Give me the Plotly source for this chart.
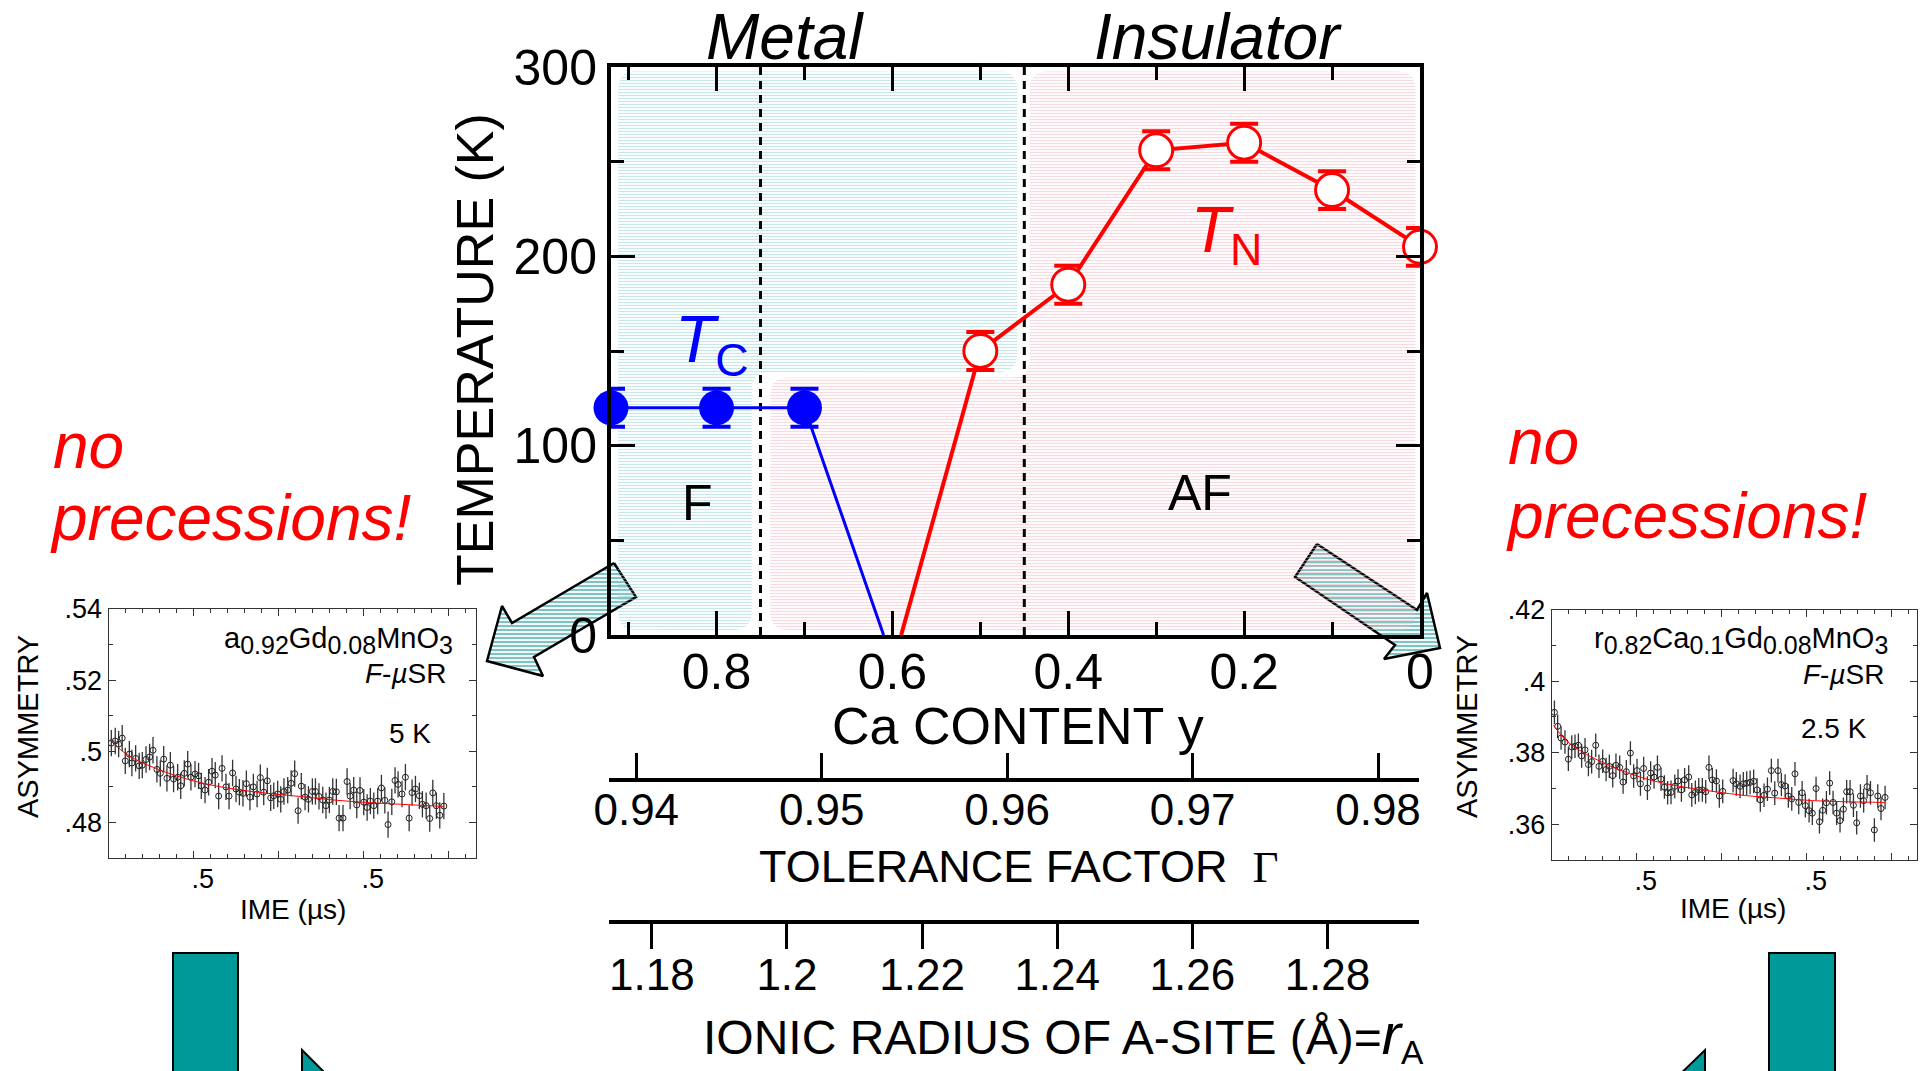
import numpy as np
import plotly.graph_objects as go

W, H = 1923, 1071
FONT = "Liberation Sans, Arial, Helvetica, sans-serif"

# ---------------- main phase diagram data ----------------
ca_tc = [0.92, 0.8, 0.7]
tc_vals = [120, 120, 120]
tc_err = [10, 10, 10]
tc_line_ca = [0.92, 0.8, 0.7, 0.61]
tc_line_t = [120, 120, 120, 0]

ca_tn = [0.5, 0.4, 0.3, 0.2, 0.1, 0.0]
tn_vals = [150, 185, 256, 260, 235, 205]
tn_err = [10, 10, 10, 10, 10, 10]
tn_line_ca = [0.59, 0.5, 0.4, 0.3, 0.2, 0.1, 0.0]
tn_line_t = [0, 150, 185, 256, 260, 235, 205]

phase_dividers = [0.75, 0.45]
# shaded phase regions (Ca content, T)
region_F = [(0.912, 297.6), (0.458, 297.6), (0.458, 139), (0.76, 139), (0.76, 2.6), (0.912, 2.6)]
region_AF = [(0.739, 2.6), (0.739, 136), (0.444, 136), (0.444, 297.6), (0.005, 297.6), (0.005, 2.6)]

tol_ticks = [0.94, 0.95, 0.96, 0.97, 0.98]
tol_range = [0.93853, 0.98221]
ion_ticks = [1.18, 1.20, 1.22, 1.24, 1.26, 1.28]
ion_labels = ["1.18", "1.2", "1.22", "1.24", "1.26", "1.28"]
ion_range = [1.17366, 1.29355]

# ---------------- inset data (left: Ca0.92Gd0.08MnO3, 5 K) ----------------
t_left = [0.016,0.039,0.059,0.080,0.098,0.122,0.137,0.159,0.180,0.198,
          0.220,0.241,0.261,0.284,0.304,0.324,0.343,0.363,0.382,0.406,
          0.424,0.445,0.465,0.484,0.508,0.529,0.545,0.567,0.588,0.608,
          0.627,0.647,0.667,0.690,0.708,0.729,0.749,0.769,0.790,0.810,
          0.831,0.851,0.873,0.892,0.912,0.933,0.953,0.971,0.994,1.012,
          1.031,1.053,1.073,1.094,1.114,1.133,1.155,1.175,1.198,1.216,
          1.237,1.259,1.278,1.298,1.318,1.339,1.355,1.378,1.402,1.420,
          1.441,1.459,1.478,1.500,1.520,1.539,1.559,1.582,1.604,1.624,
          1.643,1.665,1.684,1.702,1.725,1.745,1.767,1.784,1.804,1.827,
          1.845,1.867,1.888,1.906,1.927,1.947,1.971]
a_left = [0.5023,0.5029,0.5020,0.5037,0.4973,0.4992,0.4967,0.4980,0.4959,0.4961,
          0.4977,0.4984,0.5003,0.4949,0.4938,0.4978,0.4924,0.4961,0.4922,0.4927,
          0.4903,0.4938,0.4964,0.4927,0.4936,0.4931,0.4903,0.4891,0.4913,0.4944,
          0.4933,0.4874,0.4952,0.4900,0.4874,0.4939,0.4894,0.4885,0.4882,0.4909,
          0.4871,0.4900,0.4880,0.4926,0.4885,0.4917,0.4869,0.4875,0.4880,0.4865,
          0.4887,0.4891,0.4910,0.4937,0.4833,0.4902,0.4871,0.4865,0.4887,0.4887,
          0.4873,0.4863,0.4847,0.4863,0.4887,0.4886,0.4812,0.4812,0.4915,0.4874,
          0.4891,0.4849,0.4890,0.4857,0.4842,0.4860,0.4847,0.4860,0.4897,0.4862,
          0.4794,0.4858,0.4918,0.4907,0.4880,0.4927,0.4812,0.4884,0.4894,0.4875,
          0.4851,0.4847,0.4811,0.4883,0.4847,0.4820,0.4846]
err_left = 0.0037
fit_left_t = [0.010, 0.069, 0.147, 0.343, 0.539, 0.735, 0.931, 1.127, 1.324, 1.520, 1.716, 1.971]
fit_left_a = [0.5035, 0.5005, 0.4980, 0.4940, 0.4912, 0.4894, 0.4882, 0.4873, 0.4863, 0.4856, 0.4851, 0.4845]

# ---------------- inset data (right: Sr0.82Ca0.1Gd0.08MnO3, 2.5 K) ----------------
t_right = [0.016,0.035,0.055,0.078,0.098,0.118,0.137,0.157,0.176,0.196,
           0.216,0.235,0.259,0.278,0.300,0.320,0.339,0.359,0.378,0.400,
           0.420,0.439,0.463,0.482,0.502,0.522,0.541,0.563,0.582,0.602,
           0.622,0.643,0.663,0.682,0.702,0.724,0.743,0.763,0.782,0.806,
           0.824,0.845,0.865,0.886,0.906,0.925,0.945,0.969,0.986,1.006,
           1.067,1.086,1.108,1.127,1.147,1.167,1.188,1.208,1.227,1.249,
           1.269,1.292,1.312,1.331,1.351,1.373,1.392,1.412,1.431,1.453,
           1.473,1.492,1.514,1.533,1.555,1.575,1.594,1.616,1.635,1.655,
           1.676,1.696,1.716,1.735,1.755,1.775,1.794,1.816,1.835,1.855,
           1.875,1.898,1.918,1.937,1.961]
a_right = [0.3913,0.3874,0.3841,0.3830,0.3782,0.3816,0.3818,0.3821,0.3791,0.3808,
           0.3767,0.3775,0.3821,0.3762,0.3776,0.3753,0.3762,0.3736,0.3765,0.3759,
           0.3718,0.3747,0.3799,0.3735,0.3750,0.3713,0.3756,0.3701,0.3743,0.3732,
           0.3759,0.3726,0.3704,0.3688,0.3689,0.3706,0.3721,0.3696,0.3724,0.3732,
           0.3682,0.3689,0.3696,0.3696,0.3691,0.3759,0.3724,0.3721,0.3679,0.3692,
           0.3722,0.3713,0.3706,0.3713,0.3715,0.3717,0.3720,0.3696,0.3668,0.3681,
           0.3698,0.3750,0.3687,0.3750,0.3711,0.3707,0.3679,0.3671,0.3741,0.3661,
           0.3688,0.3652,0.3638,0.3631,0.3700,0.3607,0.3639,0.3660,0.3715,0.3661,
           0.3631,0.3610,0.3642,0.3691,0.3691,0.3653,0.3604,0.3679,0.3666,0.3705,
           0.3688,0.3584,0.3679,0.3644,0.3675]
err_right = 0.0033
fit_right_t = [0.010, 0.084, 0.163, 0.359, 0.555, 0.751, 0.947, 1.143, 1.339, 1.535, 1.731, 1.961]
fit_right_a = [0.3877, 0.3835, 0.3807, 0.3760, 0.3727, 0.3706, 0.3692, 0.3680, 0.3673, 0.3666, 0.3663, 0.3661]

# ---------------- decorations (page pixel positions) ----------------
arrow_left = [(614, 563), (636, 597), (534, 657), (543, 676), (487, 661), (502, 606), (512, 623)]
arrow_right = [(1317, 544), (1295, 577), (1395, 645), (1384, 659), (1440, 648), (1427, 593), (1417, 610)]

# layout boxes in page pixels
MAIN = dict(x0=611, x1=1420, y0=67, y1=635)
AXLINE = dict(x0=609, x1=1419)
INS_L = dict(x0=108.6, x1=476, y0=609, y1=858)
INS_R = dict(x0=1551.7, x1=1916.7, y0=609.7, y1=860)


def dx(px):
    return px / W


def dy(py):
    return 1 - py / H


def rounded(poly, r=18, n=10):
    """Round polygon corners in screen space of the main axes."""
    sx = (MAIN["x1"] - MAIN["x0"]) / 0.92
    sy = (MAIN["y1"] - MAIN["y0"]) / 300.0
    pts = np.array([(-c * sx, t * sy) for c, t in poly])
    N = len(pts)
    out = []
    for i in range(N):
        p0, p1, p2 = pts[i - 1], pts[i], pts[(i + 1) % N]
        d1 = (p0 - p1) / np.linalg.norm(p0 - p1)
        d2 = (p2 - p1) / np.linalg.norm(p2 - p1)
        a = p1 + d1 * r
        b = p1 + d2 * r
        for s in np.linspace(0, 1, n):
            out.append((1 - s) ** 2 * a + 2 * (1 - s) * s * p1 + s ** 2 * b)
    out.append(out[0])
    out = np.array(out)
    return list(-out[:, 0] / sx), list(out[:, 1] / sy)


fig = go.Figure()

# ---- overlay (page pixel) subplot x/y: hatched arrows, underneath the main axes ----
for poly in (arrow_left, arrow_right):
    xs = [p[0] for p in poly] + [poly[0][0]]
    ys = [p[1] for p in poly] + [poly[0][1]]
    fig.add_trace(go.Scatter(
        x=xs, y=ys, mode="lines", fill="toself",
        line=dict(color="black", width=2.5),
        fillcolor="white",
        fillpattern=dict(shape="-", fgcolor="#008585", bgcolor="white", size=4, solidity=0.55),
        xaxis="x", yaxis="y", hoverinfo="skip", showlegend=False))

# ---- main plot (x2/y2) ----
for reg, col in ((region_F, "#94d0d0"), (region_AF, "#ebbac4")):
    rx, ry = rounded(reg)
    fig.add_trace(go.Scatter(
        x=rx, y=ry, mode="lines", fill="toself", line=dict(width=0, color="rgba(0,0,0,0)"),
        fillcolor="rgba(0,0,0,0)",
        fillpattern=dict(shape="-", fgcolor=col, bgcolor="rgba(0,0,0,0)", size=3, solidity=0.42),
        xaxis="x2", yaxis="y2", hoverinfo="skip", showlegend=False))

for c in phase_dividers:
    fig.add_trace(go.Scatter(x=[c, c], y=[0, 300], mode="lines",
                             line=dict(color="black", width=3, dash="8px,6px"),
                             xaxis="x2", yaxis="y2", hoverinfo="skip", showlegend=False))

fig.add_trace(go.Scatter(x=tc_line_ca, y=tc_line_t, mode="lines", line=dict(color="#0000ff", width=3),
                         xaxis="x2", yaxis="y2", showlegend=False, hoverinfo="skip", cliponaxis=False))
fig.add_trace(go.Scatter(x=tn_line_ca, y=tn_line_t, mode="lines", line=dict(color="#ff0000", width=4),
                         xaxis="x2", yaxis="y2", showlegend=False, hoverinfo="skip", cliponaxis=False))
fig.add_trace(go.Scatter(x=ca_tc, y=tc_vals, mode="markers",
                         marker=dict(color="#0000ff", size=35, line=dict(width=0)),
                         error_y=dict(type="data", array=tc_err, color="#0000ff", thickness=4, width=14),
                         xaxis="x2", yaxis="y2", showlegend=False, hoverinfo="skip", cliponaxis=False))
fig.add_trace(go.Scatter(x=ca_tn, y=tn_vals, mode="markers",
                         marker=dict(color="white", size=33, line=dict(width=3, color="#ff0000")),
                         error_y=dict(type="data", array=tn_err, color="#ff0000", thickness=4, width=14),
                         xaxis="x2", yaxis="y2", showlegend=False, hoverinfo="skip", cliponaxis=False))

# ---- secondary x axes (helper invisible traces) ----
fig.add_trace(go.Scatter(x=tol_ticks, y=[0.5] * len(tol_ticks), mode="markers", marker=dict(opacity=0),
                         xaxis="x3", yaxis="y3", hoverinfo="skip", showlegend=False))
fig.add_trace(go.Scatter(x=ion_ticks, y=[0.5] * len(ion_ticks), mode="markers", marker=dict(opacity=0),
                         xaxis="x4", yaxis="y4", hoverinfo="skip", showlegend=False))

# ---- insets ----
for t, a, e, ft, fa, xa, ya in ((t_left, a_left, err_left, fit_left_t, fit_left_a, "x5", "y5"),
                                 (t_right, a_right, err_right, fit_right_t, fit_right_a, "x6", "y6")):
    fig.add_trace(go.Scatter(x=t, y=a, mode="markers",
                             marker=dict(symbol="circle-open", size=6, color="#222222", line=dict(width=1)),
                             error_y=dict(type="constant", value=e, color="#333333", thickness=1.3, width=0),
                             xaxis=xa, yaxis=ya, hoverinfo="skip", showlegend=False))
    fig.add_trace(go.Scatter(x=ft, y=fa, mode="lines", line=dict(color="#ff0000", width=1, shape="spline"),
                             xaxis=xa, yaxis=ya, hoverinfo="skip", showlegend=False))

# ---------------- axes ----------------
hidden = dict(visible=False, showgrid=False, zeroline=False, automargin=False)
main_ax = dict(showline=True, linewidth=4, linecolor="black", mirror="allticks", ticks="inside",
               ticklen=24, tickwidth=3, tickcolor="black", showgrid=False, zeroline=False, automargin=False,
               tickfont=dict(size=50, color="black", family=FONT))
ins_ax = dict(showline=True, linewidth=1.2, linecolor="#333333", mirror="allticks", ticks="inside",
              ticklen=7, tickwidth=1, tickcolor="#333333", showgrid=False, zeroline=False, automargin=False,
              tickfont=dict(size=27, color="black", family=FONT))
sec_ax = dict(showline=True, linewidth=4, linecolor="black", ticklen=25, tickwidth=3,
              tickcolor="black", showgrid=False, zeroline=False, automargin=False,
              tickfont=dict(size=44, color="black", family=FONT))

layout = dict(
    width=W, height=H, margin=dict(l=0, r=0, t=0, b=0, autoexpand=False),
    paper_bgcolor="white", plot_bgcolor="rgba(0,0,0,0)", hovermode=False, showlegend=False,
    font=dict(family=FONT, color="black"),
    xaxis=dict(domain=[0, 1], range=[0, W], anchor="y", **hidden),
    yaxis=dict(domain=[0, 1], range=[H, 0], anchor="x", **hidden),
    xaxis2=dict(domain=[dx(MAIN["x0"]), dx(MAIN["x1"])], range=[0.92, 0], anchor="y2",
                dtick=0.2, tick0=0, ticklabelstandoff=-10,
                minor=dict(dtick=0.1, tick0=0, ticks="inside", ticklen=13, tickwidth=3, tickcolor="black"),
                **main_ax),
    yaxis2=dict(domain=[dy(MAIN["y1"]), dy(MAIN["y0"])], range=[0, 300], anchor="x2",
                dtick=100, tick0=0, ticklabelstandoff=0,
                minor=dict(dtick=50, tick0=0, ticks="inside", ticklen=13, tickwidth=3, tickcolor="black"),
                **main_ax),
    xaxis3=dict(domain=[dx(AXLINE["x0"]), dx(AXLINE["x1"])], range=tol_range, anchor="y3",
                tickvals=tol_ticks, ticktext=[f"{v:.2f}" for v in tol_ticks],
                ticks="inside", ticklabelstandoff=-10, **sec_ax),
    yaxis3=dict(domain=[dy(778), dy(740)], range=[0, 1], anchor="x3", **hidden),
    xaxis4=dict(domain=[dx(AXLINE["x0"]), dx(AXLINE["x1"])], range=ion_range, anchor="y4",
                tickvals=ion_ticks, ticktext=ion_labels, ticks="outside", ticklabelstandoff=-12, **sec_ax),
    yaxis4=dict(domain=[dy(920), dy(890)], range=[0, 1], anchor="x4", **hidden),
    xaxis5=dict(domain=[dx(INS_L["x0"]), dx(INS_L["x1"])], range=[0, 2.16], anchor="y5",
                tickvals=[0.5, 1.0, 1.5, 2.0], ticktext=[".5", "", ".5", ""], ticklabelshift=9,
                ticklabelstandoff=-4,
                minor=dict(dtick=0.1, tick0=0, ticks="inside", ticklen=4, tickcolor="#333333"), **ins_ax),
    yaxis5=dict(domain=[dy(INS_L["y1"]), dy(INS_L["y0"])], range=[0.47, 0.54], anchor="x5",
                tickvals=[0.48, 0.50, 0.52, 0.54], ticktext=[".48", ".5", ".52", ".54"],
                minor=dict(dtick=0.01, tick0=0.47, ticks="inside", ticklen=4, tickcolor="#333333"), **ins_ax),
    xaxis6=dict(domain=[dx(INS_R["x0"]), dx(INS_R["x1"])], range=[0, 2.147], anchor="y6",
                tickvals=[0.5, 1.0, 1.5, 2.0], ticktext=[".5", "", ".5", ""], ticklabelshift=9,
                ticklabelstandoff=-4,
                minor=dict(dtick=0.1, tick0=0, ticks="inside", ticklen=4, tickcolor="#333333"), **ins_ax),
    yaxis6=dict(domain=[dy(INS_R["y1"]), dy(INS_R["y0"])], range=[0.35, 0.42], anchor="x6",
                tickvals=[0.36, 0.38, 0.40, 0.42], ticktext=[".36", ".38", ".4", ".42"],
                minor=dict(dtick=0.01, tick0=0.35, ticks="inside", ticklen=4, tickcolor="#333333"), **ins_ax),
)


def ann(text, px, py, size, color="black", xanchor="center", yanchor="middle", angle=0):
    return dict(text=text, x=dx(px), y=dy(py), xref="paper", yref="paper", showarrow=False,
                font=dict(size=size, color=color, family=FONT), xanchor=xanchor, yanchor=yanchor,
                textangle=angle)


SUB = "<sub><span style='font-size:25px'>{}</span></sub>"
annotations = [
    ann("<i>Metal</i>", 785, 37, 64),
    ann("<i>Insulator</i>", 1218, 37, 64),
    ann("TEMPERATURE (K)", 475, 350, 52, angle=-90),
    ann("Ca CONTENT y", 1018, 726, 52),
    ann("TOLERANCE FACTOR  <span style='font-family:Liberation Serif'>Γ</span>", 1018, 866, 45),
    ann("IONIC RADIUS OF A-SITE (Å)=<span style='font-size:58px'><i>r</i></span><sub>A</sub>", 1063, 1036, 48),
    ann("<i>T</i><sub>C</sub>", 712, 344, 66, color="#0000ff"),
    ann("<i>T</i><sub>N</sub>", 1226, 234, 64, color="#ff0000"),
    ann("F", 697, 503, 50),
    ann("AF", 1200, 493, 50),
    ann("<i>no</i>", 51, 446, 64, color="#ff0000", xanchor="left"),
    ann("<i>precessions!</i>", 48, 518, 64, color="#ff0000", xanchor="left"),
    ann("<i>no</i>", 1506, 442, 64, color="#ff0000", xanchor="left"),
    ann("<i>precessions!</i>", 1504, 516, 64, color="#ff0000", xanchor="left"),
    # left inset texts
    ann("ASYMMETRY", 28, 727, 29, angle=-90),
    ann("IME (µs)", 293, 909, 28),
    ann("a" + SUB.format("0.92") + "Gd" + SUB.format("0.08") + "MnO" + SUB.format("3"), 455, 640, 29, xanchor="right"),
    ann("<i>F</i>-<i>µ</i>SR", 448, 673, 28, xanchor="right"),
    ann("5 K", 433, 733, 28, xanchor="right"),
    # right inset texts
    ann("ASYMMETRY", 1467, 727, 29, angle=-90),
    ann("IME (µs)", 1733, 908, 28),
    ann("r" + SUB.format("0.82") + "Ca" + SUB.format("0.1") + "Gd" + SUB.format("0.08") + "MnO" + SUB.format("3"),
        1890, 640, 29, xanchor="right"),
    ann("<i>F</i>-<i>µ</i>SR", 1886, 674, 28, xanchor="right"),
    ann("2.5 K", 1869, 728, 28, xanchor="right"),
]
layout["annotations"] = annotations

TEAL = "#009999"
layout["shapes"] = [
    dict(type="rect", xref="x", yref="y", x0=173, x1=238, y0=953, y1=1085,
         fillcolor=TEAL, line=dict(color="black", width=2)),
    dict(type="rect", xref="x", yref="y", x0=1769, x1=1835, y0=953, y1=1085,
         fillcolor=TEAL, line=dict(color="black", width=2)),
    dict(type="path", xref="x", yref="y", path="M302,1050 L302,1085 L337,1085 Z",
         fillcolor=TEAL, line=dict(color="black", width=2)),
    dict(type="path", xref="x", yref="y", path="M1705,1050 L1705,1085 L1669,1085 Z",
         fillcolor=TEAL, line=dict(color="black", width=2)),
]

fig.update_layout(**layout)
fig.write_html("out.html", config={"displayModeBar": False},
               post_script="document.body.style.margin='0';document.body.style.overflow='hidden';")
